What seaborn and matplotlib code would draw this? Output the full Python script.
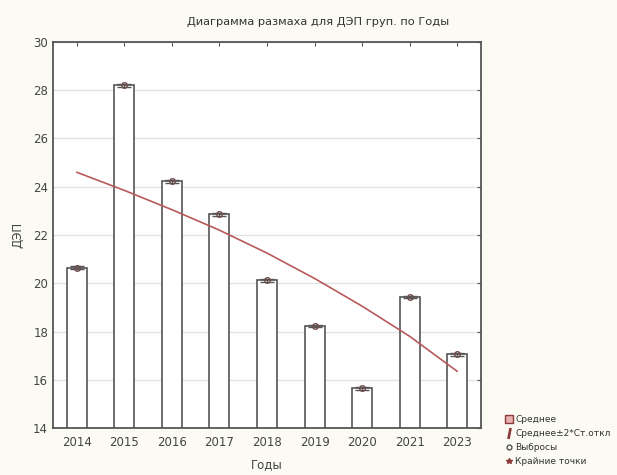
import numpy as np
import pandas as pd
import matplotlib
matplotlib.use("Agg")
import matplotlib.pyplot as plt
from matplotlib.lines import Line2D
import seaborn as sns

# Mean ДЭП per year
years = ["2014", "2015", "2016", "2017", "2018", "2019", "2020", "2021", "2023"]
means = [20.65, 28.2, 24.22, 22.85, 20.12, 18.22, 15.64, 19.42, 17.05]
# half-width of the mean ± 2*SD whisker
spread = [0.05, 0.05, 0.05, 0.05, 0.05, 0.05, 0.05, 0.05, 0.05]
# fitted trend across the years
trend = [24.6, 23.85, 23.05, 22.2, 21.25, 20.2, 19.05, 17.8, 16.35]

y_ticks = [14, 16, 18, 20, 22, 24, 26, 28, 30]

df = pd.DataFrame({"Годы": years, "ДЭП": means})

sns.set_style("white")
plt.rcParams["font.family"] = ["DejaVu Sans"]

bg = "#fbfbf3"
edge = "#555555"
txt = "#444444"

fig = plt.figure(figsize=(6.17, 4.75), dpi=100, facecolor=bg)
ax = fig.add_axes([0.0859, 0.0989, 0.6937, 0.8127])
ax.set_facecolor("white")

sns.barplot(data=df, x="Годы", y="ДЭП", order=years, color="white",
            edgecolor=edge, linewidth=1.2, width=0.42, errorbar=None, ax=ax)
for p in ax.patches:
    p.set_facecolor("white")

pos = np.arange(len(years))
ax.errorbar(pos, means, yerr=spread, fmt="none", ecolor=edge,
            elinewidth=1.0, capsize=5, capthick=1.0, zorder=4)
ax.plot(pos, means, "o", ms=4, mfc="none", mec="#6e4a4a", mew=1.0, zorder=5)

sns.lineplot(x=pos, y=trend, color="#b85a5a", linewidth=1.2, ax=ax, zorder=3)

ax.set_ylim(14, 30)
ax.set_xlim(-0.5, len(years) - 0.5)
ax.set_yticks(y_ticks)
ax.set_yticklabels([str(t) for t in y_ticks])
ax.yaxis.grid(True, color="#e2e2e2", linewidth=1.0)
ax.set_axisbelow(True)

ax.tick_params(axis="both", direction="in", length=3, color=edge,
               labelsize=8.5, labelcolor=txt, top=True, right=True)
ax.tick_params(axis="x", pad=6)
for s in ax.spines.values():
    s.set_color(edge)
    s.set_linewidth(1.3)

ax.set_xlabel("Годы", fontsize=8.5, color=txt, labelpad=6)
ax.set_ylabel("ДЭП", fontsize=8.5, color=txt, labelpad=6)

fig.text(0.515, 0.953, "Диаграмма размаха для ДЭП груп. по Годы",
         ha="center", va="center", fontsize=8.2, color="#333333")

handles = [
    Line2D([], [], marker="s", ls="none", ms=6, mfc="#e8b0b0", mec="#8a3a3a"),
    Line2D([], [], marker="$I$", ls="none", ms=7, color="#8a3a3a"),
    Line2D([], [], marker="o", ls="none", ms=3.5, mfc="none", mec="#555555"),
    Line2D([], [], marker="*", ls="none", ms=4, color="#8a3a3a"),
]
labels = ["Среднее", "Среднее±2*Ст.откл", "Выбросы", "Крайние точки"]
fig.legend(handles, labels, loc="lower left", bbox_to_anchor=(0.81, 0.008),
           frameon=False, fontsize=6.5, labelspacing=0.55, handlelength=0.8,
           handletextpad=0.3, borderaxespad=0.2, labelcolor="#333333")

fig.savefig("out.png", dpi=100, facecolor=bg)
